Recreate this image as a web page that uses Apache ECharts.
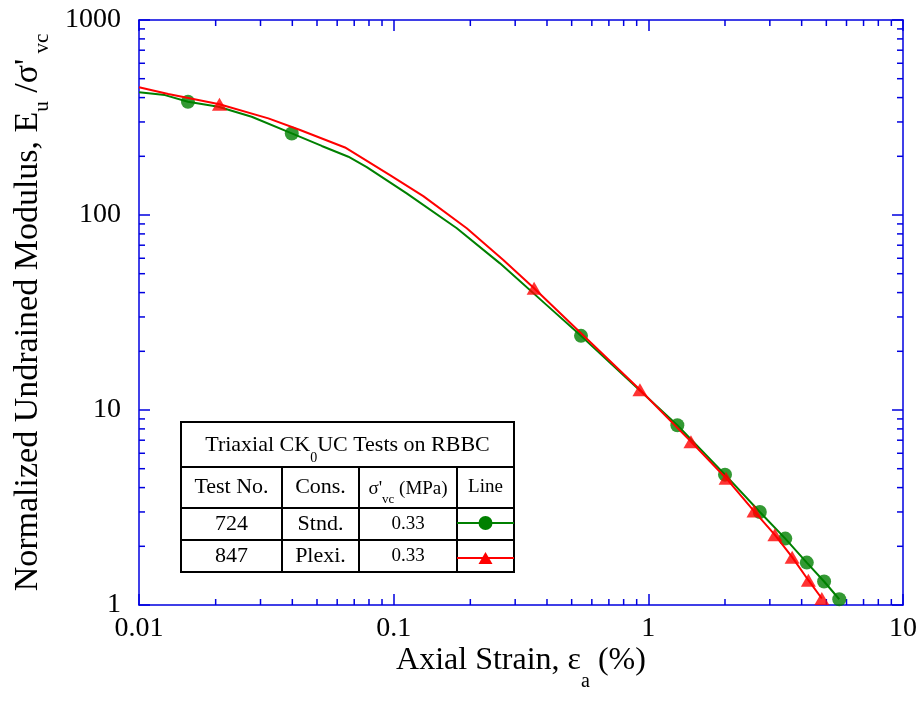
<!DOCTYPE html>
<html><head><meta charset="utf-8">
<script src="https://cdn.jsdelivr.net/npm/echarts@6/dist/echarts.min.js"></script>
<style>html,body{margin:0;padding:0;background:#fff}#c{width:921px;height:702px}</style>
</head><body><div id="c"></div>
<script>
// ---------- data ----------
const xTickLabels = ['0.01', '0.1', '1', '10'];
const yTickLabels = ['1', '10', '100', '1000'];
const xMinorTicks = [0.02,0.03,0.04,0.05,0.06,0.07,0.08,0.09,0.2,0.3,0.4,0.5,0.6,0.7,0.8,0.9,2,3,4,5,6,7,8,9];
const yMinorTicks = [2,3,4,5,6,7,8,9,20,30,40,50,60,70,80,90,200,300,400,500,600,700,800,900];

const green724Curve = [[0.01,426],[0.01265,412],[0.01557,381],[0.0205,359],[0.0277,319],[0.0398,262],[0.0522,226],[0.0664,199],[0.0784,176],[0.1125,129],[0.177,85.5],[0.2615,56.5],[0.399,34.5],[0.544,24.0],[1.30,8.35],[2.0,4.66],[2.74,3.0],[3.45,2.19],[4.19,1.65],[4.90,1.32],[5.62,1.07]];
const green724Markers = [[0.01557,381],[0.0398,262],[0.544,24.0],[1.30,8.35],[2.0,4.66],[2.74,3.0],[3.45,2.19],[4.19,1.65],[4.90,1.32],[5.62,1.07]];
const red847Curve = [[0.01,452],[0.01303,417],[0.0207,370],[0.0322,313],[0.0429,273],[0.0644,222],[0.0967,160],[0.1307,125],[0.1936,85.5],[0.2695,58.8],[0.356,42.1],[0.927,12.7],[1.47,6.88],[2.02,4.47],[2.60,3.03],[3.14,2.29],[3.67,1.76],[4.25,1.34],[4.80,1.08]];
const red847Markers = [[0.0207,370],[0.356,42.1],[0.927,12.7],[1.47,6.88],[2.02,4.47],[2.60,3.03],[3.14,2.29],[3.67,1.76],[4.25,1.34],[4.80,1.08]];

const tableHeaders = ['Test No.', 'Cons.', "σ'vc (MPa)", 'Line'];
const tableRows = [['724', 'Stnd.', '0.33'], ['847', 'Plexi.', '0.33']];

// ---------- styles ----------
const AXIS = '#0000e0';
const FONT = "'Liberation Serif','Times New Roman',Times,serif";
const GREEN = '#008000';
const RED = '#ff0000';

function tickLabel(arr) {
  return function (v) { const i = Math.round(Math.log10(v)) - Math.round(Math.log10(+arr[0])); return arr[i] !== undefined ? arr[i] : ''; };
}

const chart = echarts.init(document.getElementById('c'), null, { renderer: 'canvas' });

function minorX(params, api) {
  const v = api.value(0);
  const b = api.coord([v, 1]);
  const t = api.coord([v, 1000]);
  return { type: 'group', children: [
    { type: 'line', shape: { x1: b[0], y1: b[1], x2: b[0], y2: b[1] - 6 }, style: { stroke: AXIS, lineWidth: 1.5 } },
    { type: 'line', shape: { x1: t[0], y1: t[1], x2: t[0], y2: t[1] + 6 }, style: { stroke: AXIS, lineWidth: 1.5 } }
  ] };
}
function minorY(params, api) {
  const v = api.value(1);
  const l = api.coord([0.01, v]);
  const r = api.coord([10, v]);
  return { type: 'group', children: [
    { type: 'line', shape: { x1: l[0], y1: l[1], x2: l[0] + 6, y2: l[1] }, style: { stroke: AXIS, lineWidth: 1.5 } },
    { type: 'line', shape: { x1: r[0], y1: r[1], x2: r[0] - 6, y2: r[1] }, style: { stroke: AXIS, lineWidth: 1.5 } }
  ] };
}

const axisCommon = {
  type: 'log', logBase: 10,
  splitLine: { show: false },
  axisLine: { show: true, lineStyle: { color: AXIS, width: 1.5 } },
  axisTick: { show: true, inside: true, length: 11, lineStyle: { color: AXIS, width: 1.5 } },
  minorTick: { show: false }
};

// table geometry
const T = { x0: 181, x1: 514, y0: 422, yH: 467, yR1: 508, yR2: 540, y1: 572, cols: [181, 282, 359, 457, 514] };
const cx = i => (T.cols[i] + T.cols[i + 1]) / 2;
const txtStyle = (size) => ({ fontFamily: FONT, fontSize: size, fill: '#000', align: 'center', verticalAlign: 'middle' });
const graphics = [];
graphics.push({ type: 'rect', shape: { x: T.x0, y: T.y0, width: T.x1 - T.x0, height: T.y1 - T.y0 }, style: { fill: '#fff', stroke: '#000', lineWidth: 2 }, z: 10 });
[T.yH, T.yR1, T.yR2].forEach(y => graphics.push({ type: 'line', shape: { x1: T.x0, y1: y, x2: T.x1, y2: y }, style: { stroke: '#000', lineWidth: 2 }, z: 11 }));
[1, 2, 3].forEach(i => graphics.push({ type: 'line', shape: { x1: T.cols[i], y1: T.yH, x2: T.cols[i], y2: T.y1 }, style: { stroke: '#000', lineWidth: 2 }, z: 11 }));
graphics.push({ type: 'text', x: (T.x0 + T.x1) / 2, y: (T.y0 + T.yH) / 2 + 1, z: 12,
  style: Object.assign(txtStyle(22), { text: '{a|Triaxial CK}{s|0}{a|UC Tests on RBBC}',
    rich: { a: { fontFamily: FONT, fontSize: 22, lineHeight: 40 }, s: { fontFamily: FONT, fontSize: 14, lineHeight: 14, padding: [26, 0, 0, 0] } } }) });
const hdrY = (T.yH + T.yR1) / 2;
graphics.push({ type: 'text', x: cx(0), y: hdrY, z: 12, style: Object.assign(txtStyle(22), { text: tableHeaders[0] }) });
graphics.push({ type: 'text', x: cx(1), y: hdrY, z: 12, style: Object.assign(txtStyle(22), { text: tableHeaders[1] }) });
graphics.push({ type: 'text', x: cx(2), y: hdrY + 2, z: 12, style: Object.assign(txtStyle(19), { text: "{a|σ'}{s|vc}{a| (MPa)}",
  rich: { a: { fontFamily: FONT, fontSize: 19, lineHeight: 34 }, s: { fontFamily: FONT, fontSize: 13, lineHeight: 13, padding: [20, 0, 0, 0] } } }) });
graphics.push({ type: 'text', x: cx(3), y: hdrY, z: 12, style: Object.assign(txtStyle(19), { text: tableHeaders[3] }) });
tableRows.forEach((row, r) => {
  const y = r === 0 ? (T.yR1 + T.yR2) / 2 : (T.yR2 + T.y1) / 2;
  graphics.push({ type: 'text', x: cx(0), y: y, z: 12, style: Object.assign(txtStyle(22), { text: row[0] }) });
  graphics.push({ type: 'text', x: cx(1), y: y, z: 12, style: Object.assign(txtStyle(22), { text: row[1] }) });
  graphics.push({ type: 'text', x: cx(2), y: y, z: 12, style: Object.assign(txtStyle(19), { text: row[2] }) });
});
// legend samples
const ly1 = (T.yR1 + T.yR2) / 2 - 1, ly2 = (T.yR2 + T.y1) / 2 + 2;
graphics.push({ type: 'line', shape: { x1: T.cols[3], y1: ly1, x2: T.x1, y2: ly1 }, style: { stroke: GREEN, lineWidth: 2 }, z: 12 });
graphics.push({ type: 'circle', shape: { cx: cx(3), cy: ly1, r: 7 }, style: { fill: GREEN }, z: 13 });
graphics.push({ type: 'line', shape: { x1: T.cols[3], y1: ly2, x2: T.x1, y2: ly2 }, style: { stroke: RED, lineWidth: 2 }, z: 12 });
graphics.push({ type: 'polygon', shape: { points: [[cx(3), ly2 - 6], [cx(3) + 7, ly2 + 6], [cx(3) - 7, ly2 + 6]] }, style: { fill: RED }, z: 13 });

const option = {
  animation: false,
  backgroundColor: '#fff',
  grid: { left: 139, right: 18, top: 20, bottom: 97, containLabel: false, outerBoundsMode: 'none' },
  xAxis: [
    Object.assign({}, axisCommon, {
      min: 0.01, max: 10, position: 'bottom',
      axisLabel: { show: true, margin: 10, fontFamily: FONT, fontSize: 28, color: '#000', formatter: tickLabel(xTickLabels) },
      name: '{a|Axial Strain, ε}{s|a}{a| (%)}', nameLocation: 'middle', nameGap: 22, nameMoveOverlap: false,
      nameTextStyle: { color: '#000', fontFamily: FONT, fontSize: 32,
        rich: { a: { fontFamily: FONT, fontSize: 32, lineHeight: 68, color: '#000' }, s: { fontFamily: FONT, fontSize: 20, lineHeight: 20, padding: [42, 0, 0, 0], color: '#000' } } }
    }),
    Object.assign({}, axisCommon, { min: 0.01, max: 10, position: 'top', axisLabel: { show: false } })
  ],
  yAxis: [
    Object.assign({}, axisCommon, {
      min: 1, max: 1000, position: 'left',
      axisLabel: { show: true, margin: 18, fontFamily: FONT, fontSize: 28, color: '#000', formatter: tickLabel(yTickLabels) },
      name: "{a|Normalized Undrained Modulus, E}{s|u}{a| /σ'}{s| vc}", nameLocation: 'middle', nameGap: 86, nameMoveOverlap: false,
      nameTextStyle: { color: '#000', fontFamily: FONT, fontSize: 34,
        rich: { a: { fontFamily: FONT, fontSize: 34, lineHeight: 50, color: '#000' }, s: { fontFamily: FONT, fontSize: 21, lineHeight: 21, padding: [28, 0, 0, 0], color: '#000' } } }
    }),
    Object.assign({}, axisCommon, { min: 1, max: 1000, position: 'right', axisLabel: { show: false } })
  ],
  series: [
    { type: 'custom', renderItem: minorX, data: xMinorTicks.map(v => [v, 1]), silent: true, z: 1 },
    { type: 'custom', renderItem: minorY, data: yMinorTicks.map(v => [0.01, v]), silent: true, z: 1 },
    { name: '724 Stnd.', type: 'line', data: green724Curve, showSymbol: false, symbol: 'none', lineStyle: { color: GREEN, width: 2 }, z: 2 },
    { name: '724 markers', type: 'scatter', data: green724Markers, symbol: 'circle', symbolSize: 14, itemStyle: { color: GREEN }, z: 3 },
    { name: '847 Plexi.', type: 'line', data: red847Curve, showSymbol: false, symbol: 'none', lineStyle: { color: RED, width: 2 }, z: 4 },
    { name: '847 markers', type: 'scatter', data: red847Markers, symbol: 'triangle', symbolSize: [15, 13], itemStyle: { color: RED }, z: 5 }
  ],
  graphic: graphics
};
chart.setOption(option);
</script>
</body></html>
